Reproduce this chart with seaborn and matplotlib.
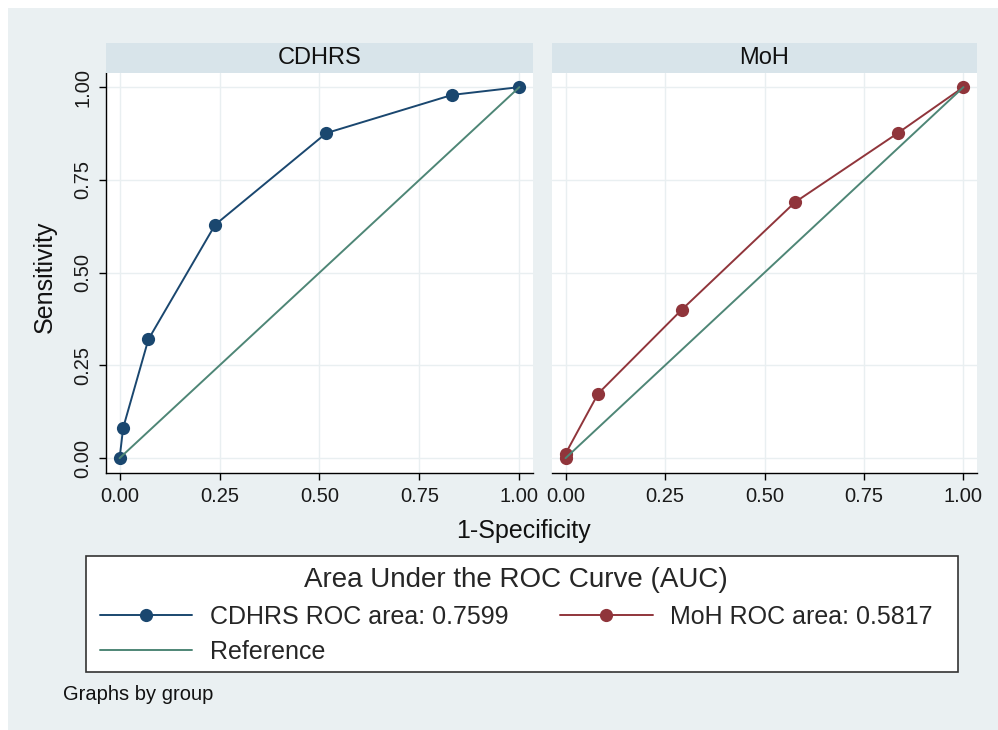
import matplotlib
matplotlib.use("Agg")
import matplotlib.pyplot as plt
import pandas as pd
import seaborn as sns
from matplotlib.patches import Rectangle

# ROC points
cdhrs_fpr = [0.0, 0.009, 0.072, 0.239, 0.517, 0.832, 1.0]
cdhrs_tpr = [0.0, 0.082, 0.320, 0.629, 0.876, 0.979, 1.0]
moh_fpr = [0.0, 0.0, 0.082, 0.292, 0.577, 0.835, 1.0]
moh_tpr = [0.0, 0.012, 0.174, 0.400, 0.690, 0.876, 1.0]
ref_x = [0.0, 1.0]
ref_y = [0.0, 1.0]
groups = ["CDHRS", "MoH"]
auc = {"CDHRS": 0.7599, "MoH": 0.5817}
ticks = [0.0, 0.25, 0.50, 0.75, 1.0]
tick_labels = ["0.00", "0.25", "0.50", "0.75", "1.00"]

colors = {"CDHRS": "#1a476f", "MoH": "#90353b"}
ref_color = "#4e8676"
bg = "#eaf0f2"
strip_bg = "#d8e4ea"

df = pd.concat([
    pd.DataFrame({"group": "CDHRS", "fpr": cdhrs_fpr, "tpr": cdhrs_tpr}),
    pd.DataFrame({"group": "MoH", "fpr": moh_fpr, "tpr": moh_tpr}),
])
ref = pd.DataFrame({"x": ref_x, "y": ref_y})

sns.set_theme(style="white")
plt.rcParams["font.family"] = ["Liberation Sans", "DejaVu Sans"]

W, H = 998, 730
fig = plt.figure(figsize=(W / 100, H / 100), dpi=100, facecolor=bg)
# thin white margin at top and left, as in the original export
fig.patches.append(Rectangle((0, 1 - 8 / H), 1, 8 / H, transform=fig.transFigure,
                             facecolor="white", edgecolor="none", zorder=-10))
fig.patches.append(Rectangle((0, 0), 8 / W, 1, transform=fig.transFigure,
                             facecolor="white", edgecolor="none", zorder=-10))


def px_box(x0, y0, x1, y1):
    return [x0 / W, 1 - y1 / H, (x1 - x0) / W, (y1 - y0) / H]


panels = {"CDHRS": (106, 533), "MoH": (552, 977)}
handles = {}
for g in groups:
    x0, x1 = panels[g]
    ax = fig.add_axes(px_box(x0, 73, x1, 473))
    ax.set_facecolor("white")
    sub = df[df["group"] == g]
    sns.lineplot(data=sub, x="fpr", y="tpr", ax=ax, estimator=None, sort=False,
                 color=colors[g], marker="o", markersize=9.5, markeredgewidth=0,
                 linewidth=1.4, label=f"{g} ROC area: {auc[g]:.4f}")
    sns.lineplot(data=ref, x="x", y="y", ax=ax, color=ref_color, linewidth=1.4,
                 label="Reference")
    if ax.get_legend() is not None:
        ax.get_legend().remove()
    h, l = ax.get_legend_handles_labels()
    for hh, ll in zip(h, l):
        handles[ll] = hh
    ax.set_xlim(-0.034, 1.034)
    ax.set_ylim(-0.04, 1.038)
    ax.set_xticks(ticks)
    ax.set_xticklabels(tick_labels)
    ax.set_yticks(ticks)
    ax.grid(True, color="#e9eff1", linewidth=1)
    ax.set_xlabel("")
    ax.set_ylabel("")
    for s in ["top", "right"]:
        ax.spines[s].set_visible(False)
    ax.spines["bottom"].set_color("black")
    ax.spines["bottom"].set_linewidth(1)
    ax.tick_params(axis="x", bottom=True, length=5, width=1, color="black",
                   labelsize=14.5, pad=5, labelcolor="#1a1a1a")
    if g == "CDHRS":
        ax.spines["left"].set_color("black")
        ax.spines["left"].set_linewidth(1)
        ax.set_yticklabels(tick_labels, rotation=90, va="center")
        ax.tick_params(axis="y", left=True, length=5, width=1, color="black",
                       labelsize=14.5, pad=5, labelcolor="#1a1a1a")
    else:
        ax.spines["left"].set_visible(False)
        ax.tick_params(axis="y", left=False, labelleft=False)

    strip = fig.add_axes(px_box(x0, 43, x1, 73))
    strip.set_facecolor(strip_bg)
    strip.set_xticks([])
    strip.set_yticks([])
    for s in strip.spines.values():
        s.set_visible(False)
    strip.text(0.5, 0.5, g, ha="center", va="center", fontsize=17,
               color="#111111", transform=strip.transAxes)

fig.text(523 / W, 1 - 531 / H, "1-Specificity", ha="center", va="center",
         fontsize=18, color="#111111")
fig.text(45 / W, 1 - 277 / H, "Sensitivity", ha="center", va="center",
         rotation=90, fontsize=18, color="#111111")
fig.text(63 / W, 1 - 694 / H, "Graphs by group", ha="left", va="center",
         fontsize=14.5, color="#111111")

# legend box drawn separately so it can be wider than its contents
fig.patches.append(Rectangle((86 / W, 1 - 672 / H), (958 - 86) / W, (672 - 556) / H,
                             transform=fig.transFigure, facecolor="white",
                             edgecolor="#333333", linewidth=1.2, zorder=1))

order = ["CDHRS ROC area: 0.7599", "Reference", "MoH ROC area: 0.5817"]
leg = fig.legend([handles[k] for k in order], order, ncol=2,
                 loc="upper center",
                 bbox_to_anchor=(516 / W, 1 - 556 / H),
                 bbox_transform=fig.transFigure, borderaxespad=0,
                 title="Area Under the ROC Curve (AUC)", title_fontsize=20,
                 fontsize=18, handlelength=3.7, handletextpad=0.7,
                 columnspacing=2.08, labelspacing=0.45, borderpad=0.45,
                 frameon=False)
leg.set_zorder(5)

fig.savefig("out.png", dpi=100, facecolor=bg)
